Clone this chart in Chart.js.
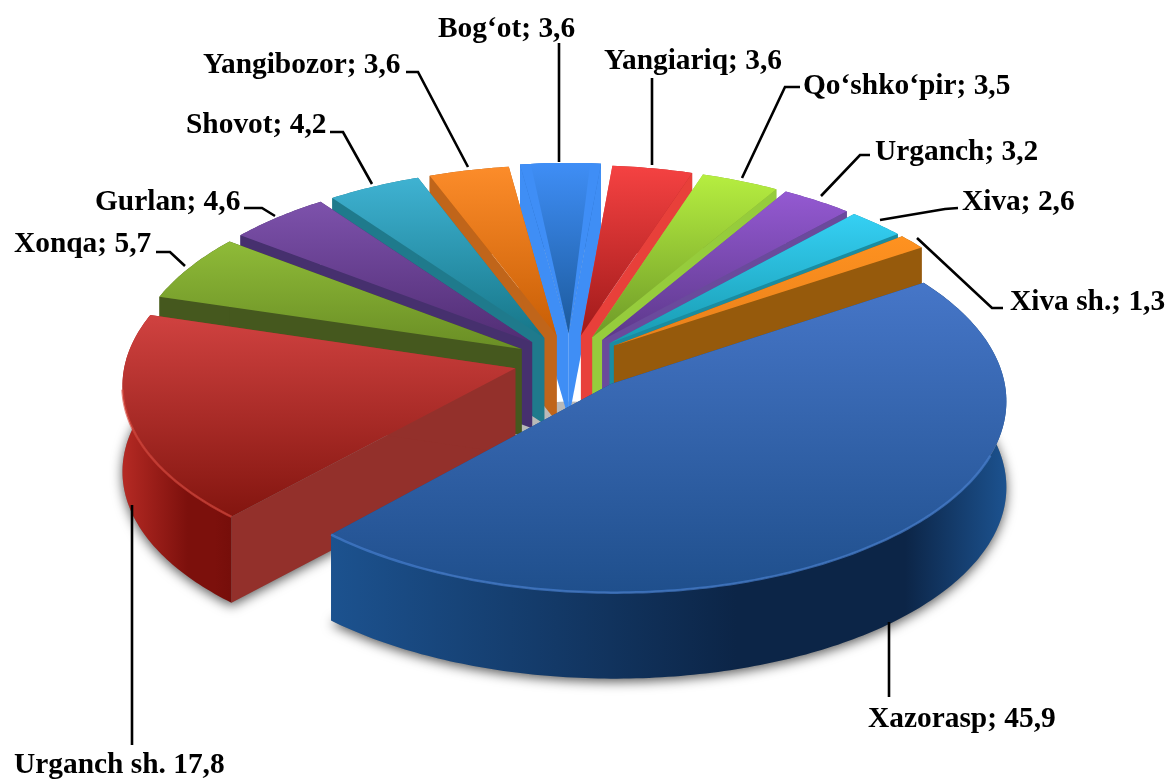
<!DOCTYPE html>
<html><head><meta charset="utf-8">
<style>html,body{margin:0;padding:0;background:#fff}canvas{display:block}</style>
<script src="https://cdn.jsdelivr.net/npm/chart.js@4"></script>
</head><body>
<canvas id="c" width="1167" height="780"></canvas>
<script>
const categories=["Xazorasp","Urganch sh.","Xonqa","Gurlan","Shovot","Yangibozor","Bog‘ot","Yangiariq","Qo‘shko‘pir","Urganch","Xiva","Xiva sh."];
const shares=[45.9,17.8,5.7,4.6,4.2,3.6,3.6,3.6,3.5,3.2,2.6,1.3];
const separators=["; "," ","; ","; ","; ","; ","; ","; ","; ","; ","; ","; "];
const explosion=[16,14.5,14,14,14,14,15,14,14,14,14,14];
const topLight=["#4676c8","#d04240","#8fbb38","#7d52ac","#3fb2d2","#fc8c2a","#3f8ef6","#f54242","#b6ee40","#9459d2","#35d0f4","#ff9220"];
const topDark=["#1f4f8c","#83150f","#6a8e25","#512d74","#167688","#c85e05","#1c5a9c","#a01a1a","#6e9a28","#5c388a","#189ab0","#e8801a"];
const sideColor=["#1a4a86","#93302b","#45581e","#46306e","#1f7a8c","#c0651a","#3f8ef5","#e8403a","#96cc3c","#6a4a9c","#1a8ca0","#965a0c"];
const arcLeft=["#1c528f","#b52a24","#55701f","#46306e","#1f7a8c","#b05a10","#2c6cc0","#b82a28","#80a830","#5c388a","#1a8ca0","#965a0c"];
const arcMid=["#0c2547","#7c100c","#45581e","#46306e","#1f7a8c","#b05a10","#2c6cc0","#b82a28","#80a830","#5c388a","#1a8ca0","#965a0c"];
const arcRight=["#1c528f","#760e0a","#45581e","#46306e","#1f7a8c","#b05a10","#2c6cc0","#b82a28","#80a830","#5c388a","#1a8ca0","#965a0c"];
const labelX=[868,14,14,95,186,203,438,604,803,875,962,1010];
const labelY=[727,773,252,210,133,73,37,69,94,160,210,310];
const leaders=[[[889,697],[889,622]],[[132,745],[132,505]],[[156,252],[170,252],[185,266]],[[244,208],[262,208],[275,216]],[[330,132],[343,132],[372,184]],[[406,72],[418,72],[468,167]],[[559,43],[559,162]],[[652,78],[652,165]],[[800,87],[785,87],[742,178]],[[870,155],[860,155],[821,196]],[[958,208],[945,209],[880,220]],[[1003,308],[992,308],[917,238]]];
const CX=570,CY=361,A=390,B=188,K=0.08,H=86;
function project(u,v,z){const w=1/(1-K*v);return [CX+A*u*w,CY+B*v*w+H*z];}
function geom(el){const o=el.options.offset/100,m=(el.startAngle+el.endAngle)/2;return {s:el.startAngle,e:el.endAngle,m,ox:Math.cos(m)*o,oy:Math.sin(m)*o};}
function pt(g,a,r,z){return project(g.ox+Math.cos(a)*r,g.oy+Math.sin(a)*r,z);}
function rimPts(g,z,s,e){s=s===undefined?g.s:s;e=e===undefined?g.e:e;const n=Math.max(2,Math.ceil((e-s)/0.015)),p=[];for(let i=0;i<=n;i++)p.push(pt(g,s+(e-s)*i/n,1,z));return p;}
function poly(ctx,p){ctx.beginPath();p.forEach((q,i)=>i?ctx.lineTo(q[0],q[1]):ctx.moveTo(q[0],q[1]));ctx.closePath();}
const pie3d={id:'pie3d',
 beforeDatasetDraw(chart){
  const ctx=chart.ctx,arcs=chart.getDatasetMeta(0).data;
  const gs=arcs.map(geom);
  ctx.save();
  gs.forEach(g=>{if(Math.sin(g.m)<0)return;ctx.save();ctx.shadowColor='rgba(0,0,0,0.65)';ctx.shadowBlur=12;ctx.shadowOffsetY=3;ctx.fillStyle='#888';
    poly(ctx,[pt(g,g.s,0,1),...rimPts(g,1)]);ctx.fill();ctx.restore();});
  const core=[];for(let j=0;j<48;j++){const a=j/48*Math.PI*2;core.push(project(Math.cos(a)*0.2,Math.sin(a)*0.2,0.9));}
  ctx.fillStyle='#b9b9b9';poly(ctx,core);ctx.fill();
  const order=gs.map((g,i)=>i).sort((a,b)=>Math.sin(gs[a].m)-Math.sin(gs[b].m));
  order.forEach(i=>{
    const g=gs[i];
    const t=rimPts(g,0),b=rimPts(g,1);
    const radial=()=>[g.s,g.e].forEach(a=>{ctx.fillStyle=sideColor[i];
      poly(ctx,[pt(g,a,0,0),pt(g,a,1,0),pt(g,a,1,1),pt(g,a,0,1)]);ctx.fill();});
    const outer=()=>{const xs=t.map(p=>p[0]),x0=Math.min(...xs),x1=Math.max(...xs);
      const ag=ctx.createLinearGradient(x0,0,x1,0);
      ag.addColorStop(0,arcLeft[i]);ag.addColorStop(0.6,arcMid[i]);ag.addColorStop(0.85,arcMid[i]);ag.addColorStop(1,arcRight[i]);
      ctx.fillStyle=ag;poly(ctx,[...t,...b.slice().reverse()]);ctx.fill();};
    if(Math.sin(g.m)<0){outer();radial();}else{radial();outer();}
    const top=[pt(g,g.s,0,0),...t];
    const ys=top.map(p=>p[1]),y0=Math.min(...ys),y1=Math.max(...ys);
    const tg=ctx.createLinearGradient(0,y0,0,y1);
    tg.addColorStop(0,topLight[i]);tg.addColorStop(1,topDark[i]);
    ctx.fillStyle=tg;poly(ctx,top);ctx.fill();
    if(i===6){ctx.fillStyle=topLight[i];poly(ctx,top);ctx.fill();
      const inner=[pt(g,g.m,0,0),...rimPts(g,0,g.s+0.03,g.e-0.03)];
      const ig=ctx.createLinearGradient(0,y0,0,y1);ig.addColorStop(0,'#3f8ef6');ig.addColorStop(1,'#1c5a9c');
      ctx.fillStyle=ig;poly(ctx,inner);ctx.fill();}
    if(i<2){ctx.strokeStyle=i?'rgba(215,70,60,.65)':'rgba(70,125,205,.7)';ctx.lineWidth=2.5;
      const n=t.length-1,lim=i?0.1:0.35;ctx.beginPath();let pen=false;
      t.forEach((q,j)=>{const a=g.s+(g.e-g.s)*j/n;if(Math.sin(a)<lim){pen=false;return;}
        if(pen)ctx.lineTo(q[0],q[1]);else{ctx.moveTo(q[0],q[1]);pen=true;}});ctx.stroke();}
  });
  ctx.restore();
  return false;
 },
 afterDraw(chart){
  const ctx=chart.ctx;ctx.save();
  ctx.strokeStyle='#000';ctx.lineWidth=2.6;
  leaders.forEach(l=>{ctx.beginPath();l.forEach((q,j)=>j?ctx.lineTo(q[0],q[1]):ctx.moveTo(q[0],q[1]));ctx.stroke();});
  ctx.fillStyle='#000';ctx.font='bold 29.4px "Liberation Serif"';ctx.textBaseline='alphabetic';ctx.textAlign='left';
  categories.forEach((c,i)=>ctx.fillText(c+separators[i]+shares[i].toFixed(1).replace('.',','),labelX[i],labelY[i]));
  ctx.restore();
 }};
new Chart(document.getElementById('c'),{type:'pie',
 data:{labels:categories,datasets:[{data:shares,offset:explosion,borderWidth:0,hoverOffset:0,backgroundColor:topLight}]},
 options:{responsive:false,animation:false,rotation:56.5,layout:{padding:0},events:[],
  plugins:{legend:{display:false},title:{display:false},tooltip:{enabled:false}}},
 plugins:[pie3d]});
</script>
</body></html>
